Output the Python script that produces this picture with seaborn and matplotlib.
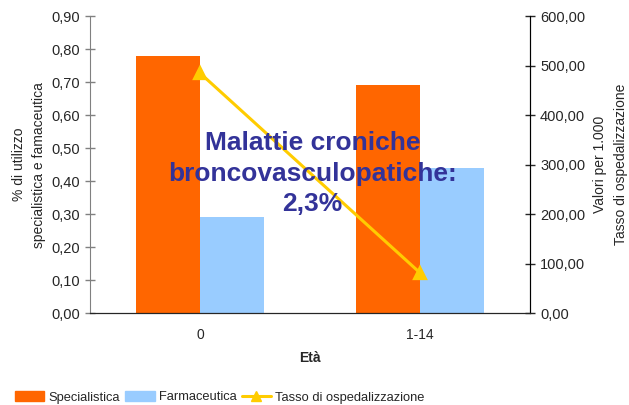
import pandas as pd
import matplotlib.pyplot as plt
import seaborn as sns
from matplotlib.ticker import FuncFormatter

eta = ["0", "1-14"]
specialistica = [0.78, 0.69]
farmaceutica = [0.29, 0.44]
tasso = [485, 81]

df = pd.DataFrame({
    "Età": eta * 2,
    "valore": specialistica + farmaceutica,
    "serie": ["Specialistica"] * 2 + ["Farmaceutica"] * 2,
})

sns.set_style("white")
plt.rcParams['font.family'] = ['Liberation Sans', 'DejaVu Sans']

fig = plt.figure(figsize=(6.29, 4.05), dpi=100)
ax = fig.add_axes([0.143, 0.227, 0.7, 0.733])
sns.barplot(data=df, x="Età", y="valore", hue="serie", order=eta,
            palette=["#FF6600", "#99CCFF"], width=0.58, saturation=1,
            linewidth=0, ax=ax, legend=False)
ax.set_ylim(0, 0.9)
ax.set_yticks([i / 10 for i in range(10)])
comma = lambda fmt: FuncFormatter(lambda v, p: format(v, fmt).replace(".", ","))
ax.yaxis.set_major_formatter(comma(".2f"))
ax.set_xlim(-0.5, 1.5)
ax.set_ylabel("% di utilizzo\nspecialistica e famaceutica", fontsize=10, labelpad=4, linespacing=1.5)
ax.set_xlabel("Età", fontsize=10, fontweight="bold", labelpad=6)
ax.tick_params(axis="y", direction="inout", length=7, width=1, labelsize=10.5, left=True, color="#808080")
ax.tick_params(axis="x", length=0, labelsize=10, pad=11)
ax.spines["top"].set_visible(False)
ax.spines["left"].set_color("#808080")
ax.spines["bottom"].set_color("black")

ax2 = ax.twinx()
sns.pointplot(x=eta, y=tasso, order=eta, color="#FFCC00", markers="^",
              markersize=9, linewidth=2.2, ax=ax2)
ax2.set_ylim(0, 600)
ax2.set_yticks(range(0, 601, 100))
ax2.yaxis.set_major_formatter(comma(".2f"))
ax2.set_ylabel("Valori per 1.000\nTasso di ospedalizzazione", fontsize=10, labelpad=6, linespacing=1.6)
ax2.tick_params(axis="y", direction="inout", length=7, width=1, labelsize=10.5, right=True)
ax2.spines["top"].set_visible(False)
ax2.spines["right"].set_color("black")
ax2.spines["left"].set_visible(False)
ax2.set_xlim(-0.5, 1.5)

ax2.text(0.505, 0.47, "Malattie croniche\nbroncovasculopatiche:\n2,3%", transform=ax2.transAxes,
         ha="center", va="center", fontsize=19, fontweight="bold", color="#333399",
         linespacing=1.32)

handles = [plt.Rectangle((0, 0), 1, 1, color="#FF6600"),
           plt.Rectangle((0, 0), 1, 1, color="#99CCFF"),
           plt.Line2D([], [], color="#FFCC00", marker="^", markersize=7, linewidth=2.2)]
fig.legend(handles, ["Specialistica", "Farmaceutica", "Tasso di ospedalizzazione"],
           loc="lower left", bbox_to_anchor=(0.005, -0.025), ncol=3, frameon=False,
           fontsize=9.3, handlelength=2.3, handletextpad=0.3, columnspacing=0.4)

fig.savefig("out.png", dpi=100)
